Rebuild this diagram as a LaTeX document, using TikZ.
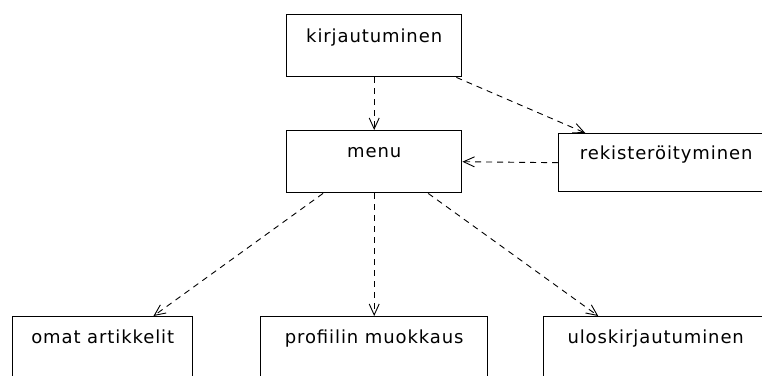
\documentclass[tikz,border=0pt]{standalone}
\usepackage{fontspec}
\setmainfont{DejaVu Sans}[LetterSpace=5]
\usetikzlibrary{arrows.meta,calc}
\begin{document}
\begin{tikzpicture}[x=1pt,y=-1pt,
  box/.style={draw=black,line width=1.4pt,rectangle,inner sep=0pt,
    minimum width=#1,minimum height=62pt,anchor=north west},
  lbl/.style={anchor=base,inner sep=0pt,font=\fontsize{18}{20}\selectfont},
  flow/.style={draw=black,line width=0.9pt,dash pattern=on 6pt off 5pt,
    -{Straight Barb[length=11pt,width=10pt,line width=0.9pt]}}]
\clip (0,0) rectangle (762,375);
\fill[white] (0,0) rectangle (762,375);

% boxes
\node[box=175pt] (kir) at (286,14) {};
\node[box=175pt] (menu) at (286,130) {};
\node[box=215pt,minimum height=58pt] (rek) at (558,133) {};
\node[box=180pt,minimum height=80pt] (omat) at (12,316) {};
\node[box=227pt,minimum height=80pt] (prof) at (260,316) {};
\node[box=224pt,minimum height=80pt] (ulos) at (543,316) {};

% box captions
\node[lbl,yshift=-28pt] (tkir) at (kir.north) {kirjautuminen};
\node[lbl,yshift=-27pt] (tmenu) at (menu.north) {menu};
\node[lbl,yshift=-26pt] (trek) at (rek.north) {rekisteröityminen};
\node[lbl,yshift=-27pt] (tomat) at (omat.north) {omat artikkelit};
\node[lbl,yshift=-27pt] (tprof) at (prof.north) {profiilin muokkaus};
\node[lbl,yshift=-27pt] (tulos) at (ulos.north) {uloskirjautuminen};

% navigation links
\draw[flow] (kir.south) -- (menu.north);
\draw[flow] ($(kir.south west)!0.966!(kir.south east)$) -- ($(rek.north west)!0.126!(rek.north east)$);
\draw[flow] (rek.west) -- (menu.east);
\draw[flow] ($(menu.south west)!0.21!(menu.south east)$) -- ($(omat.north west)!0.78!(omat.north east)$);
\draw[flow] (menu.south) -- (prof.north);
\draw[flow] ($(menu.south west)!0.806!(menu.south east)$) -- ($(ulos.north west)!0.245!(ulos.north east)$);
\end{tikzpicture}
\end{document}
